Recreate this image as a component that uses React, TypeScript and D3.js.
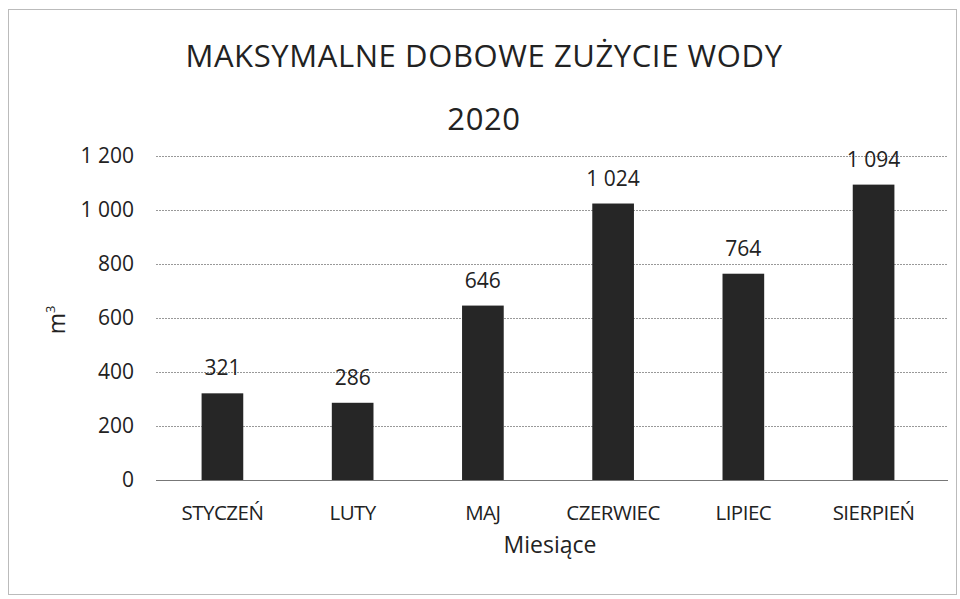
import React, { useEffect, useRef } from 'react';
import * as d3 from 'd3';

const months = ['STYCZEŃ', 'LUTY', 'MAJ', 'CZERWIEC', 'LIPIEC', 'SIERPIEŃ'];
const values = [321, 286, 646, 1024, 764, 1094];
const yTicks = [0, 200, 400, 600, 800, 1000, 1200];

const titleLines = ['MAKSYMALNE DOBOWE ZUŻYCIE WODY', '2020'];
const xTitle = 'Miesiące';

const fmt = (v: number) => d3.format(',')(v).replace(/,/g, ' ');

const App = () => {
  const svgRef = useRef<SVGSVGElement>(null);

  useEffect(() => {
    const svg = d3.select(svgRef.current);
    svg.selectAll('*').remove();

    const W = 960;
    const H = 599;
    const plot = { left: 156, right: 948, top: 156, bottom: 480 };
    const font = '"Open Sans", sans-serif';

    svg.append('rect')
      .attr('width', W).attr('height', H).attr('fill', '#fff');

    // chart border
    svg.append('rect')
      .attr('x', 8.5).attr('y', 9.5)
      .attr('width', W - 12).attr('height', H - 14)
      .attr('fill', 'none').attr('stroke', '#bbb').attr('stroke-width', 1);

    const x = d3.scaleBand()
      .domain(months)
      .range([plot.left, 940])
      .paddingInner(0.68)
      .paddingOuter(0.35);

    const y = d3.scaleLinear()
      .domain([0, 1200])
      .range([plot.bottom, plot.top]);

    // gridlines
    svg.append('g')
      .selectAll('line')
      .data(yTicks)
      .enter()
      .append('line')
      .attr('x1', plot.left)
      .attr('x2', plot.right)
      .attr('y1', d => Math.round(y(d)) + 0.5)
      .attr('y2', d => Math.round(y(d)) + 0.5)
      .attr('stroke', d => (d === 0 ? '#777' : '#999'))
      .attr('stroke-width', 1)
      .attr('stroke-dasharray', d => (d === 0 ? null : '2,1'));

    // y tick labels
    svg.append('g')
      .selectAll('text')
      .data(yTicks)
      .enter()
      .append('text')
      .attr('x', 134)
      .attr('y', d => y(d))
      .attr('dy', '0.35em')
      .attr('text-anchor', 'end')
      .style('font-family', font)
      .style('font-size', '21px')
      .style('fill', '#222')
      .text(d => fmt(d));

    // bars
    svg.selectAll('.bar')
      .data(values)
      .enter()
      .append('rect')
      .attr('class', 'bar')
      .attr('x', (d, i) => x(months[i]) as number)
      .attr('y', d => y(d))
      .attr('width', x.bandwidth())
      .attr('height', d => y(0) - y(d))
      .style('fill', '#262626');

    // value labels
    svg.selectAll('.val')
      .data(values)
      .enter()
      .append('text')
      .attr('class', 'val')
      .attr('x', (d, i) => (x(months[i]) as number) + x.bandwidth() / 2)
      .attr('y', d => y(d) - 18)
      .attr('text-anchor', 'middle')
      .style('font-family', font)
      .style('font-size', '21px')
      .style('fill', '#222')
      .text(d => fmt(d));

    // x labels
    svg.selectAll('.xl')
      .data(months)
      .enter()
      .append('text')
      .attr('class', 'xl')
      .attr('x', d => (x(d) as number) + x.bandwidth() / 2)
      .attr('y', 520)
      .attr('text-anchor', 'middle')
      .style('font-family', font)
      .style('font-size', '20.5px')
      .style('letter-spacing', '-0.5px')
      .style('fill', '#222')
      .text(d => d);

    // x axis title
    svg.append('text')
      .attr('x', 550)
      .attr('y', 553)
      .attr('text-anchor', 'middle')
      .style('font-family', font)
      .style('font-size', '23px')
      .style('fill', '#222')
      .text(xTitle);

    // y axis title
    const yt = svg.append('text')
      .attr('transform', 'translate(65,320) rotate(-90)')
      .attr('text-anchor', 'middle')
      .style('font-family', font)
      .style('font-size', '23px')
      .style('fill', '#222');
    yt.append('tspan').text('m');
    yt.append('tspan').attr('dy', -10).style('font-size', '13px').text('3');

    // title
    svg.append('g')
      .selectAll('text')
      .data(titleLines)
      .enter()
      .append('text')
      .attr('x', 484)
      .attr('y', (d, i) => 67 + i * 63)
      .attr('text-anchor', 'middle')
      .style('font-family', font)
      .style('font-size', '31px')
      .style('letter-spacing', '0.6px')
      .style('fill', '#222')
      .text(d => d);
  }, []);

  return (
    <svg ref={svgRef} width={960} height={599} style={{ display: 'block', position: 'absolute', left: 0, top: 0 }} />
  );
};

export default App;
